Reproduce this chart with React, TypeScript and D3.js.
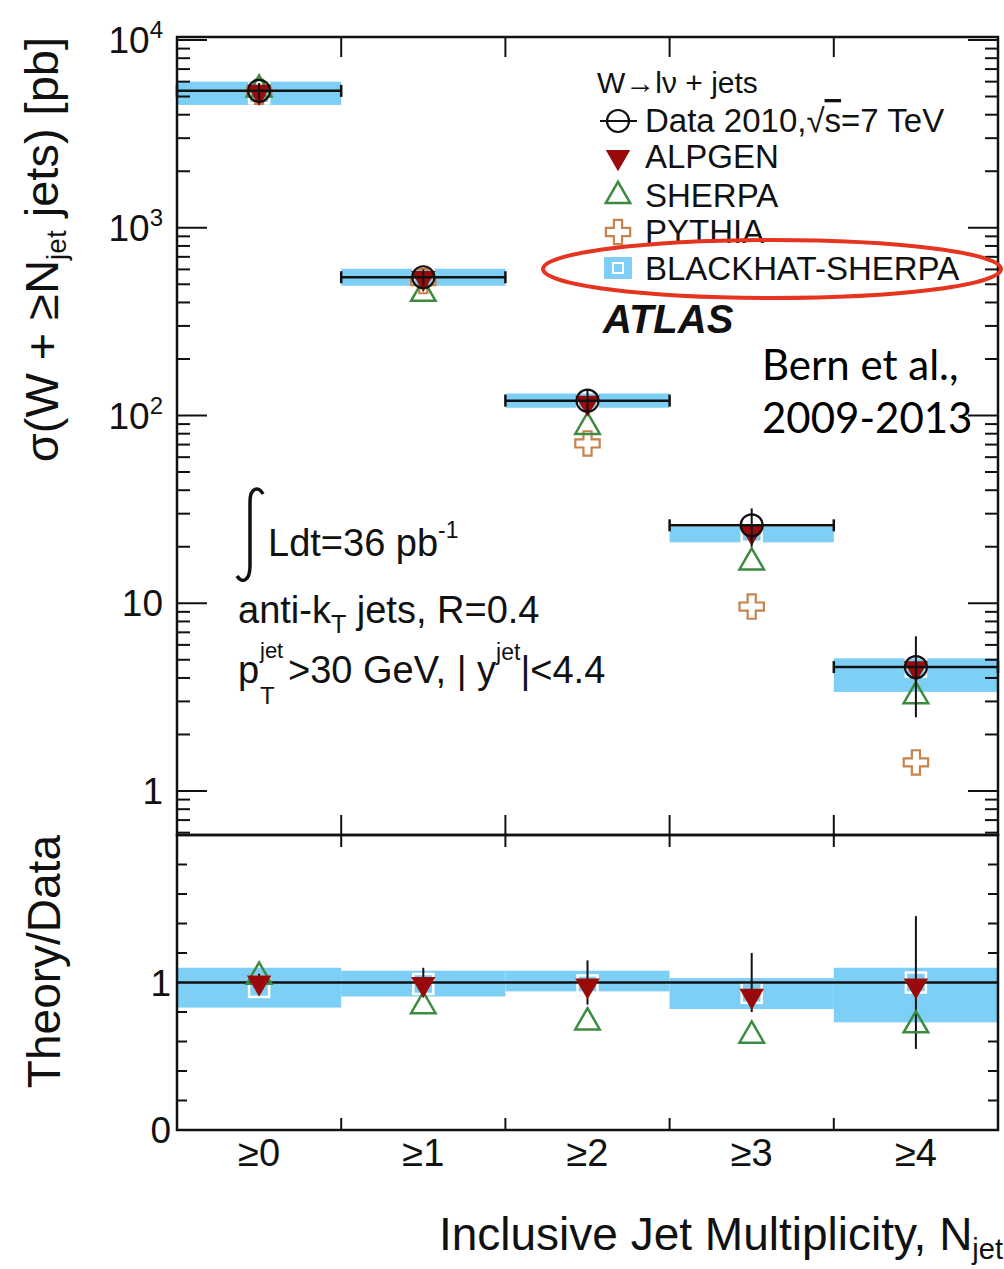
import * as d3 from "d3";
import React from "react";

// jet multiplicity bins
const categories = ["≥0", "≥1", "≥2", "≥3", "≥4"];

// cross sections [pb]
const dataXsec = [5360, 545, 120, 26, 4.57];
const dataErr = [540, 55, 18, 6, 2.1];
const alpgenXsec = [5300, 540, 117, 24, 4.5];
const sherpaXsec = [5450, 445, 87, 16.5, 3.2];
const pythiaXsec = [5300, 520, 71, 9.6, 1.42];
const blackhatXsec = [5200, 540, 118, 24, 4.6];
const blackhatLo = [4510, 491, 110, 21.1, 3.37];
const blackhatHi = [6000, 605, 131, 25.6, 5.09];

// theory / data
const ratioDataErr = [0.06, 0.1, 0.15, 0.2, 0.45];
const ratioAlpgen = [1.0, 0.99, 0.98, 0.91, 0.98];
const ratioSherpa = [1.04, 0.84, 0.73, 0.64, 0.71];
const ratioBlackhat = [0.97, 0.99, 0.98, 0.93, 1.0];
const ratioBandLo = [0.83, 0.905, 0.94, 0.82, 0.73];
const ratioBandHi = [1.1, 1.08, 1.08, 1.03, 1.1];

const decades = [1, 10, 100, 1000, 10000];
const ratioTicks = d3.range(0, 2.01, 0.2);

const W = 1004;
const H = 1269;
const left = 177;
const right = 998;
const top = 37;
const mid = 835;
const bottom = 1130;

const FONT = "'Liberation Sans', Arial, Helvetica, sans-serif";
const INK = "#111";
const BAND = "#7ecff5";
const RED = "#9b0a0a";
const GREEN = "#3d8b40";
const ORANGE = "#c8824c";

const x = d3.scaleLinear().domain([-0.5, 4.5]).range([left, right]);
const y = d3.scaleLog().domain([0.583, 10375]).range([mid, top]);
const yr = d3.scaleLinear().domain([0, 2]).range([bottom, mid]);

const triUp = d3.symbol(d3.symbolTriangle, 260)();
const cross = d3.symbol(d3.symbolCross, 330)();

function TriDown({ cx, cy }: { cx: number; cy: number }) {
  return <path d={triUp!} transform={`translate(${cx},${cy}) rotate(180)`} fill={RED} />;
}
function TriUp({ cx, cy }: { cx: number; cy: number }) {
  return <path d={triUp!} transform={`translate(${cx},${cy})`} fill="none" stroke={GREEN} strokeWidth={2.5} />;
}
function Cross({ cx, cy }: { cx: number; cy: number }) {
  return <path d={cross!} transform={`translate(${cx},${cy})`} fill="none" stroke={ORANGE} strokeWidth={2.2} />;
}
function WhiteBox({ cx, cy }: { cx: number; cy: number }) {
  return <rect x={cx - 10} y={cy - 10} width={20} height={20} fill="none" stroke="#fff" strokeWidth={2.5} />;
}

export default function App() {
  const minors: number[] = [];
  [0.1, 1, 10, 100, 1000].forEach((d) => {
    for (let k = 2; k <= 9; k++) {
      const v = d * k;
      if (v > 0.583 && v < 10375) minors.push(v);
    }
  });
  const edges = [0.5, 1.5, 2.5, 3.5];

  return (
    <svg width={W} height={H} style={{ position: "absolute", left: 0, top: 0, background: "#fff" }} fontFamily={FONT}>
      <rect width={W} height={H} fill="#fff" />

      {/* ---------- top panel ---------- */}
      {categories.map((c, i) => (
        <rect key={"bh" + c} x={x(i - 0.5)} width={x(i + 0.5) - x(i - 0.5)} y={y(blackhatHi[i])}
          height={y(blackhatLo[i]) - y(blackhatHi[i])} fill={BAND} />
      ))}
      {categories.map((c, i) => <WhiteBox key={"bhm" + c} cx={x(i)} cy={y(blackhatXsec[i])} />)}
      {categories.map((c, i) => <Cross key={"py" + c} cx={x(i)} cy={y(pythiaXsec[i])} />)}
      {categories.map((c, i) => <TriUp key={"sh" + c} cx={x(i)} cy={y(sherpaXsec[i])} />)}
      {categories.map((c, i) => <TriDown key={"al" + c} cx={x(i)} cy={y(alpgenXsec[i])} />)}
      {categories.map((c, i) => {
        const cy = y(dataXsec[i]);
        return (
          <g key={"d" + c} stroke={INK} strokeWidth={2.5} fill="none">
            <line x1={x(i - 0.5)} x2={x(i + 0.5)} y1={cy} y2={cy} />
            <line x1={x(i - 0.5)} x2={x(i - 0.5)} y1={cy - 6} y2={cy + 6} />
            <line x1={x(i + 0.5)} x2={x(i + 0.5)} y1={cy - 6} y2={cy + 6} />
            <line x1={x(i)} x2={x(i)} y1={y(dataXsec[i] + dataErr[i])} y2={y(dataXsec[i] - dataErr[i])} strokeWidth={2} />
            <circle cx={x(i)} cy={cy} r={11} strokeWidth={2.2} />
          </g>
        );
      })}

      {/* axes ticks */}
      <g stroke={INK} strokeWidth={2}>
        {decades.map((d) => (
          <g key={"M" + d}>
            <line x1={left} x2={left + 30} y1={y(d)} y2={y(d)} />
            <line x1={right} x2={right - 30} y1={y(d)} y2={y(d)} />
          </g>
        ))}
        {minors.map((d) => (
          <g key={"m" + d}>
            <line x1={left} x2={left + 13} y1={y(d)} y2={y(d)} />
            <line x1={right} x2={right - 13} y1={y(d)} y2={y(d)} />
          </g>
        ))}
        {edges.map((e) => (
          <g key={"e" + e}>
            <line x1={x(e)} x2={x(e)} y1={top} y2={top + 20} />
            <line x1={x(e)} x2={x(e)} y1={mid} y2={mid - 20} />
            <line x1={x(e)} x2={x(e)} y1={mid} y2={mid + 12} />
            <line x1={x(e)} x2={x(e)} y1={bottom} y2={bottom - 12} />
          </g>
        ))}
        {ratioTicks.map((t) => (
          <g key={"r" + t}>
            <line x1={left} x2={left + (Math.abs(t - 1) < 1e-6 ? 18 : 10)} y1={yr(t)} y2={yr(t)} />
            <line x1={right} x2={right - (Math.abs(t - 1) < 1e-6 ? 18 : 10)} y1={yr(t)} y2={yr(t)} />
          </g>
        ))}
      </g>

      {/* y tick labels */}
      <g fontSize={37} fill={INK} textAnchor="end">
        {decades.map((d) => {
          const e = Math.round(Math.log10(d));
          return (
            <text key={"l" + d} x={163} y={y(d) + 13}>
              {e <= 1 ? String(d) : "10"}
              {e > 1 && <tspan fontSize={24} dy={-15}>{e}</tspan>}
            </text>
          );
        })}
        <text x={171} y={yr(1) + 13}>1</text>
        <text x={171} y={yr(0) + 13}>0</text>
      </g>

      {/* ---------- ratio panel ---------- */}
      {categories.map((c, i) => (
        <rect key={"rb" + c} x={x(i - 0.5)} width={x(i + 0.5) - x(i - 0.5)} y={yr(ratioBandHi[i])}
          height={yr(ratioBandLo[i]) - yr(ratioBandHi[i])} fill={BAND} />
      ))}
      {categories.map((c, i) => <WhiteBox key={"rbm" + c} cx={x(i)} cy={yr(ratioBlackhat[i])} />)}
      <line x1={left} x2={right} y1={yr(1)} y2={yr(1)} stroke={INK} strokeWidth={2.5} />
      {categories.map((c, i) => (
        <line key={"re" + c} x1={x(i)} x2={x(i)} y1={yr(1 + ratioDataErr[i])} y2={yr(1 - ratioDataErr[i])}
          stroke={INK} strokeWidth={2} />
      ))}
      {categories.map((c, i) => <TriUp key={"rs" + c} cx={x(i)} cy={yr(ratioSherpa[i])} />)}
      {categories.map((c, i) => <TriDown key={"ra" + c} cx={x(i)} cy={yr(ratioAlpgen[i])} />)}

      {/* frames */}
      <rect x={left} y={top} width={right - left} height={mid - top} fill="none" stroke={INK} strokeWidth={2.5} />
      <rect x={left} y={mid} width={right - left} height={bottom - mid} fill="none" stroke={INK} strokeWidth={2.5} />

      {/* x tick labels */}
      <g fontSize={38} fill={INK} textAnchor="middle">
        {categories.map((c, i) => (
          <text key={"xl" + c} x={x(i)} y={1166}>{c}</text>
        ))}
      </g>

      {/* axis titles */}
      <text x={1003} y={1250} fontSize={46} fill={INK} textAnchor="end">
        Inclusive Jet Multiplicity, N<tspan fontSize={29} dy={9}>jet</tspan>
      </text>
      <text transform="translate(58,37) rotate(-90)" fontSize={47} fill={INK} textAnchor="end">
        σ(W + ≥N<tspan fontSize={28} dy={8}>jet</tspan><tspan dy={-8}> jets) [pb]</tspan>
      </text>
      <text transform="translate(60,835) rotate(-90)" fontSize={46} fill={INK} textAnchor="end">
        Theory/Data
      </text>

      {/* legend */}
      <g fill={INK} fontSize={33}>
        <text x={597} y={93} fontSize={30}>W→lν + jets</text>
        <line x1={600} x2={637} y1={121} y2={121} stroke={INK} strokeWidth={2} />
        <circle cx={618} cy={121} r={11} fill="none" stroke={INK} strokeWidth={2.2} />
        <text x={645} y={132}>Data 2010,√<tspan textDecoration="overline">s</tspan>=7 TeV</text>
        <TriDown cx={618} cy={157} />
        <text x={645} y={168}>ALPGEN</text>
        <TriUp cx={618} cy={196} />
        <text x={645} y={207}>SHERPA</text>
        <Cross cx={618} cy={232} />
        <text x={645} y={243}>PYTHIA</text>
        <rect x={604} y={257} width={28} height={22} fill={BAND} />
        <rect x={613} y={263} width={10} height={10} fill="none" stroke="#fff" strokeWidth={2} />
        <text x={645} y={280}>BLACKHAT-SHERPA</text>
        <text x={603} y={333} fontSize={40} fontWeight="bold" fontStyle="italic">ATLAS</text>
      </g>

      {/* luminosity / selection */}
      <path d="M 263 494 C 259 486 250 487 250 502 L 250 566 C 250 581 242 584 237 576" fill="none" stroke={INK} strokeWidth={3.5} />
      <g fill={INK} fontSize={38}>
        <text x={268} y={556}>Ldt=36 pb<tspan fontSize={23} dy={-18}>-1</tspan></text>
        <text x={238} y={623}>anti-k<tspan fontSize={25} dy={10}>T</tspan><tspan dy={-10}> jets, R=0.4</tspan></text>
        <text x={238} y={683}>p</text>
        <text x={260} y={658} fontSize={22}>jet</text>
        <text x={260} y={704} fontSize={24}>T</text>
        <text x={288} y={683}>
          &gt;30 GeV, | y<tspan fontSize={23} dy={-23}>jet</tspan><tspan dy={23}>|&lt;4.4</tspan>
        </text>
      </g>

      {/* annotation */}
      <g fontFamily="Lato, 'Open Sans', sans-serif" fontSize={42} fill="#000">
        <text x={762} y={380}>Bern et al.,</text>
        <text x={762} y={433}>2009-2013</text>
      </g>
      <ellipse cx={772} cy={269} rx={229} ry={29} fill="none" stroke="#e5341f" strokeWidth={4} />
    </svg>
  );
}
